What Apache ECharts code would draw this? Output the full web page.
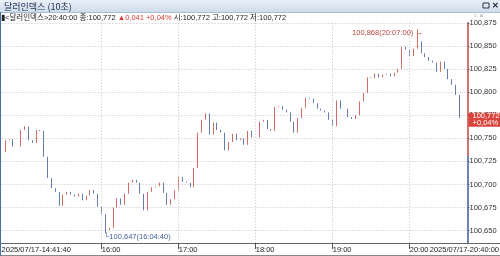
<!DOCTYPE html>
<html>
<head>
<meta charset="utf-8">
<script src="https://cdn.jsdelivr.net/npm/echarts@6/dist/echarts.min.js"></script>
<style>
  html, body { margin: 0; padding: 0; background: #fff; }
  #chart { width: 500px; height: 256px; }
</style>
</head>
<body>
<div id="chart"></div>
<script>
// 달러인덱스 10초 차트 (3분 단위로 읽은 값)
var title = '달러인덱스 (10초)';
var startLabel = '2025/07/17-14:41:40';
var endLabel = '2025/07/17-20:40:00';
var hourLabels = ['16:00', '17:00', '18:00', '19:00', '20:00'];

var closes = [
    100.735, 100.748, 100.749, 100.741, 100.741, 100.759, 100.763, 100.748, 100.745, 100.759,
    100.758, 100.730, 100.707, 100.696, 100.692, 100.677, 100.689, 100.692, 100.689, 100.687,
    100.690, 100.683, 100.688, 100.694, 100.690, 100.676, 100.668, 100.651, 100.653, 100.675,
    100.685, 100.678, 100.690, 100.702, 100.705, 100.702, 100.690, 100.672, 100.692, 100.697,
    100.698, 100.702, 100.691, 100.678, 100.684, 100.694, 100.708, 100.703, 100.702, 100.697,
    100.718, 100.756, 100.770, 100.777, 100.754, 100.767, 100.759, 100.756, 100.737, 100.746,
    100.755, 100.748, 100.750, 100.743, 100.758, 100.751, 100.751, 100.768, 100.770, 100.760,
    100.758, 100.784, 100.785, 100.781, 100.778, 100.768, 100.756, 100.772, 100.783, 100.794,
    100.793, 100.788, 100.782, 100.780, 100.778, 100.770, 100.763, 100.791, 100.782, 100.782,
    100.773, 100.771, 100.775, 100.790, 100.799, 100.816, 100.815, 100.820, 100.816, 100.819,
    100.820, 100.817, 100.821, 100.825, 100.849, 100.846, 100.839, 100.847, 100.855, 100.842,
    100.838, 100.834, 100.832, 100.822, 100.833, 100.825, 100.814, 100.808, 100.797, 100.772
];

// 고가/저가 표시
var peakIdx = 108, peakValue = 100.868, peakTime = '20:07:00';
var troughIdx = 27, troughValue = 100.647, troughTime = '16:04:40';

var lastTime = '20:40:00';
var lastPrice = 100.772;
var prevClose = 100.731;
var change = 0.041;
var changePct = '+0,04%';

var yMin = 100.625, yMax = 100.875, yStep = 0.025;

var UP = '#c4473f', DOWN = '#3e5c9a';
var FONT = "'Liberation Sans', Arial, 'Noto Sans CJK KR', sans-serif";
var KFONT = "'Noto Sans CJK KR', sans-serif";
var GRID_TOP = 22.8, GRID_BOTTOM = 253.8;

function fmt(v) {
    return v.toFixed(3).replace('.', ',');
}

// 3분 간격 카테고리 (14:42 ~ 20:39), 뒤에 빈칸 2개
var times = [];
for (var i = 0; i < closes.length + 2; i++) {
    if (i >= closes.length) { times.push(''); continue; }
    var m = 14 * 60 + 42 + i * 3;
    var hh = Math.floor(m / 60), mm = m % 60;
    times.push(hh + ':' + (mm < 10 ? '0' : '') + mm);
}

var candles = closes.map(function (c, i) {
    var o = i === 0 ? c : closes[i - 1];
    var lo = Math.min(o, c), hi = Math.max(o, c);
    if (i === peakIdx) hi = peakValue;
    if (i === troughIdx) lo = troughValue;
    return [o, c, lo, hi];
});

function isHour(i, name) { return hourLabels.indexOf(name) >= 0; }
function isLabel(i, name) { return i === 0 || hourLabels.indexOf(name) >= 0; }

// 전일종가 위는 빨강, 아래는 파랑
var split = (yMax - prevClose) / (yMax - yMin);
var axisColor = new echarts.graphic.LinearGradient(0, GRID_TOP, 0, GRID_BOTTOM, [
    { offset: 0, color: UP }, { offset: split, color: UP },
    { offset: split, color: DOWN }, { offset: 1, color: DOWN }
], true);

var option = {
    animation: false,
    backgroundColor: '#fff',
    grid: { left: 1.6, right: 32.5, top: GRID_TOP, bottom: 256 - GRID_BOTTOM, outerBoundsMode: 'none' },
    xAxis: {
        type: 'category',
        data: times,
        boundaryGap: false,
        offset: -10.8,
        z: 5,
        axisLine: { show: false },
        axisTick: { show: true, interval: isHour, length: 6, lineStyle: { color: '#555' } },
        axisLabel: {
            interval: isLabel,
            formatter: function (v, i) { return i === 0 ? startLabel : v; },
            align: 'left', margin: 3, fontSize: 7.5, color: '#222', fontFamily: FONT
        },
        splitLine: { show: true, interval: isHour, lineStyle: { type: [1, 2], color: '#c4c4c4' } }
    },
    yAxis: {
        type: 'value',
        position: 'right',
        min: yMin, max: yMax, interval: yStep,
        axisLine: { show: true, lineStyle: { color: axisColor, width: 1.5 } },
        axisTick: { show: true, length: 2, lineStyle: { color: '#666' } },
        axisLabel: {
            showMinLabel: false, formatter: fmt, margin: 2,
            fontSize: 7.5, color: '#333', fontFamily: FONT
        },
        splitLine: { show: true, lineStyle: { type: [1, 2], color: '#c4c4c4' } }
    },
    series: [{
        type: 'candlestick',
        data: candles,
        barWidth: 1,
        itemStyle: { color: UP, color0: DOWN, borderColor: UP, borderColor0: DOWN, borderWidth: 0.8 },
        markPoint: {
            symbol: 'circle', symbolSize: 1,
            itemStyle: { color: 'rgba(0,0,0,0)' },
            data: [
                {
                    coord: [peakIdx, peakValue],
                    label: {
                        formatter: fmt(peakValue) + '(' + peakTime + ') →',
                        position: 'left', distance: 0, offset: [6, 4],
                        fontSize: 7.5, color: '#b5473c', fontFamily: FONT
                    }
                },
                {
                    coord: [troughIdx, troughValue],
                    label: {
                        formatter: '└' + fmt(troughValue) + '(' + troughTime + ')',
                        position: 'right', distance: 0, offset: [-2, 3],
                        fontSize: 7.5, color: '#44609a', fontFamily: FONT
                    }
                }
            ]
        },
        markLine: {
            symbol: ['none', 'none'],
            silent: true,
            z: 10,
            lineStyle: { color: 'rgba(0,0,0,0)', width: 1 },
            data: [{ yAxis: lastPrice }],
            label: {
                show: true,
                position: 'end', distance: 1,
                formatter: fmt(lastPrice) + '\n' + changePct,
                backgroundColor: '#d9443c', color: '#fff',
                fontSize: 7.5, lineHeight: 7, padding: [0, 2, 0, 4],
                fontFamily: FONT
            }
        }
    }],
    graphic: [
        // 아래 여백 덮기
        { type: 'rect', z: 3, shape: { x: 0, y: 243.5, width: 500, height: 13 }, style: { fill: '#fff' } },
        { type: 'line', z: 4, shape: { x1: 0, y1: 243.5, x2: 500, y2: 243.5 }, style: { stroke: '#666', lineWidth: 1 } },
        { type: 'line', z: 4, shape: { x1: 0, y1: 255.5, x2: 500, y2: 255.5 }, style: { stroke: '#888', lineWidth: 1 } },
        {
            type: 'text', z: 6,
            style: { text: endLabel, x: 499, y: 250, align: 'right', verticalAlign: 'middle', font: '7.5px ' + FONT, fill: '#222' }
        },
        // 제목줄
        {
            type: 'rect', z: 6, shape: { x: 0, y: 0, width: 500, height: 12 },
            style: {
                fill: new echarts.graphic.LinearGradient(0, 0, 0, 1, [
                    { offset: 0, color: '#e9f0f8' }, { offset: 1, color: '#cfdcea' }
                ])
            }
        },
        { type: 'line', z: 6, shape: { x1: 0, y1: 12.5, x2: 500, y2: 12.5 }, style: { stroke: '#a9bdd3' } },
        {
            type: 'text', z: 7,
            style: { text: title, x: 4, y: 6.5, verticalAlign: 'middle', font: '9px ' + KFONT, fill: '#1d2c4c' }
        },
        { type: 'rect', z: 7, shape: { x: 483, y: 3, width: 6, height: 5 }, style: { fill: 'none', stroke: '#334', lineWidth: 1 } },
        {
            type: 'text', z: 7,
            style: { text: '✕', x: 495, y: 6, align: 'center', verticalAlign: 'middle', font: 'bold 8px ' + FONT, fill: '#223' }
        },
        // 현재가 정보
        {
            type: 'text', z: 7,
            style: {
                x: 1, y: 17.5, verticalAlign: 'middle',
                text: '{d|▮<달러인덱스>' + lastTime + ' 종:' + fmt(lastPrice) + ' }{r|▲' + fmt(change) + ' ' + changePct +
                    '}{d| 시:' + fmt(lastPrice) + ' 고:' + fmt(lastPrice) + ' 저:' + fmt(lastPrice) + '}',
                rich: {
                    d: { fontSize: 7.5, fontFamily: FONT, fill: '#222', color: '#222' },
                    r: { fontSize: 7.5, fontFamily: FONT, fill: '#d23b33', color: '#d23b33' }
                }
            }
        },
        {
            type: 'text', z: 7,
            style: { text: '▫ ×', x: 474, y: 16, verticalAlign: 'middle', font: '8px ' + FONT, fill: '#999' }
        },
        // 왼쪽 테두리
        { type: 'line', z: 7, shape: { x1: 0.5, y1: 12, x2: 0.5, y2: 256 }, style: { stroke: '#4a6da8', lineWidth: 1 } }
    ]
};

var myChart = echarts.init(document.getElementById('chart'));
myChart.setOption(option);
</script>
</body>
</html>
